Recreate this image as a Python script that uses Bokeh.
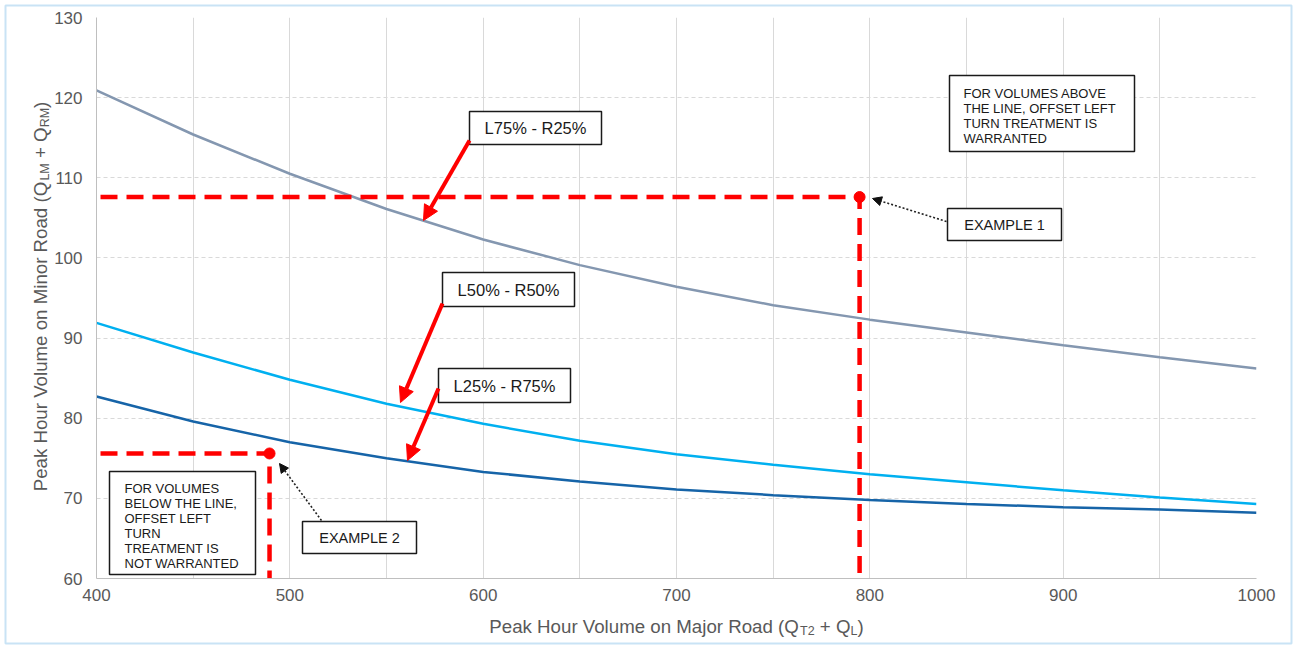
import math
from bokeh.plotting import figure
from bokeh.models import FixedTicker, Arrow, NormalHead, Range1d
from bokeh.core.properties import value
from bokeh.embed import file_html
from bokeh.resources import INLINE

# ---------------- data ----------------
major_volume = [400, 450, 500, 550, 600, 650, 700, 750, 800, 850, 900, 950, 1000]
l75_r25 = [120.9, 115.4, 110.5, 106.1, 102.3, 99.1, 96.4, 94.1, 92.3, 90.7, 89.1, 87.6, 86.2]
l50_r50 = [91.9, 88.2, 84.8, 81.8, 79.3, 77.2, 75.5, 74.2, 73.0, 72.0, 71.0, 70.1, 69.3]
l25_r75 = [82.7, 79.6, 77.0, 75.0, 73.3, 72.1, 71.1, 70.4, 69.8, 69.3, 68.9, 68.6, 68.2]
example_major = [794.7, 489.5]
example_minor = [107.6, 75.6]
x_ticks = [400, 500, 600, 700, 800, 900, 1000]
x_grid = [400, 450, 500, 550, 600, 650, 700, 750, 800, 850, 900, 950, 1000]
y_ticks = [60, 70, 80, 90, 100, 110, 120, 130]
series_labels = ["L75% - R25%", "L50% - R50%", "L25% - R75%"]
example_labels = ["EXAMPLE 1", "EXAMPLE 2"]
note_above = "FOR VOLUMES ABOVE\nTHE LINE, OFFSET LEFT\nTURN TREATMENT IS\nWARRANTED"
note_below = "FOR VOLUMES\nBELOW THE LINE,\nOFFSET LEFT\nTURN\nTREATMENT IS\nNOT WARRANTED"
NBSP = "\u00a0"
x_title_parts = [("Peak Hour Volume on Major Road (Q", False), ("T2", True),
                 (NBSP + "+ Q", False), ("L", True), (")", False)]
y_title_parts = [("Peak Hour Volume on Minor Road (Q", False), ("LM", True),
                 (NBSP + "+ Q", False), ("RM", True), (")", False)]

FONT = "Liberation Sans"
X0, X1, Y0, Y1 = 400, 1000, 60, 130
FL, FR, FT, FB = 96, 1256, 17, 578
WIDTH, HEIGHT = 1296, 648


def xd(px):
    return X0 + (px - FL) * (X1 - X0) / (FR - FL)


def yd(py):
    return Y1 - (py - FT) * (Y1 - Y0) / (FB - FT)


p = figure(width=WIDTH, height=HEIGHT, x_range=Range1d(X0, X1), y_range=Range1d(Y0, Y1),
           output_backend="svg", toolbar_location=None,
           min_border_left=FL, min_border_right=WIDTH - FR, min_border_top=FT,
           min_border_bottom=HEIGHT - FB)
p.outline_line_color = None
p.background_fill_color = "white"

# grids
p.xgrid[0].ticker = FixedTicker(ticks=x_grid)
p.xgrid.grid_line_color = "#D9D9D9"
p.ygrid[0].ticker = FixedTicker(ticks=y_ticks)
p.ygrid.grid_line_color = "#D9D9D9"
p.ygrid.grid_line_dash = "4 3"

# axes
p.xaxis.ticker = FixedTicker(ticks=x_ticks)
p.yaxis.ticker = FixedTicker(ticks=y_ticks)
for ax in (p.xaxis, p.yaxis):
    ax.major_tick_line_color = None
    ax.minor_tick_line_color = None
    ax.major_tick_out = 0
    ax.major_tick_in = 0
    ax.axis_line_color = "#BFBFBF"
    ax.major_label_text_font = FONT
    ax.major_label_text_font_size = "17px"
    ax.major_label_text_color = "#595959"
p.xaxis.major_label_standoff = 10
p.yaxis.major_label_standoff = 14

# curves
p.line(major_volume, l75_r25, line_color="#8497B0", line_width=2.5)
p.line(major_volume, l50_r50, line_color="#00B0F0", line_width=2.5)
p.line(major_volume, l25_r75, line_color="#1664A8", line_width=2.5)

# example guide lines and points
guide_start = xd(100)
for ex, ey in zip(example_major, example_minor):
    p.line([guide_start, ex, ex], [ey, ey, Y0], line_color="#FF0000", line_width=4.5,
           line_dash="17 9", line_join="miter")
p.scatter(example_major, example_minor, size=11, color="#FF0000")

# callout boxes (page pixels: left, right, top, bottom)
series_boxes = [(469, 601, 111, 144), (442, 574, 272, 306), (438, 570, 368, 402)]
example_boxes = [(947, 1061, 208, 240), (302, 416, 521, 553)]
note_boxes = [(949, 1134, 75, 151), (109, 255, 471, 574)]
all_boxes = series_boxes + example_boxes + note_boxes
p.quad(left=[xd(b[0]) for b in all_boxes], right=[xd(b[1]) for b in all_boxes],
       top=[yd(b[2]) for b in all_boxes], bottom=[yd(b[3]) for b in all_boxes],
       fill_color="white", line_color="#1A1A1A", line_width=1.5)

p.text(x=[xd((b[0] + b[1]) / 2) for b in series_boxes],
       y=[yd((b[2] + b[3]) / 2) for b in series_boxes],
       text=series_labels, text_font=value(FONT), text_font_size="16.5px",
       text_color="#1A1A1A", text_align="center", text_baseline="middle")
p.text(x=[xd((b[0] + b[1]) / 2) for b in example_boxes],
       y=[yd((b[2] + b[3]) / 2) for b in example_boxes],
       text=example_labels, text_font=value(FONT), text_font_size="14.5px",
       text_color="#1A1A1A", text_align="center", text_baseline="middle")
p.text(x=[xd(963), xd(124)], y=[yd(85), yd(480)], text=[note_above, note_below],
       text_font=value(FONT), text_font_size="13px", text_color="#1A1A1A",
       text_align="left", text_baseline="top", text_line_height=1.0)

# red arrows to the curves
red_arrows = [((469, 140), (423, 220)), ((442, 303), (400, 402)), ((438, 388), (407, 460))]
for (sx, sy), (ex, ey) in red_arrows:
    p.add_layout(Arrow(x_start=xd(sx), y_start=yd(sy), x_end=xd(ex), y_end=yd(ey),
                       line_color="#FF0000", line_width=4,
                       end=NormalHead(size=15, fill_color="#FF0000", line_color="#FF0000")))

# dotted arrows to example points
dot_arrows = [((946, 221), (872, 198)), ((321, 520), (279, 463))]
for (sx, sy), (ex, ey) in dot_arrows:
    p.add_layout(Arrow(x_start=xd(sx), y_start=yd(sy), x_end=xd(ex), y_end=yd(ey),
                       line_color="#222222", line_width=1.6, line_dash="2 2",
                       end=NormalHead(size=9, fill_color="#111111", line_color="#111111",
                                      line_width=1)))

# axis titles with subscripts (overlay-level text so they are drawn outside the frame)
W = {' ': 278, NBSP: 278, '(': 333, ')': 333, '+': 584, '2': 556, 'P': 667, 'e': 556,
     'a': 556, 'k': 500, 'H': 722, 'o': 556, 'u': 556, 'r': 333, 'V': 667, 'l': 222,
     'm': 833, 'n': 556, 'M': 833, 'j': 222, 'R': 722, 'd': 556, 'Q': 778, 'T': 611,
     'L': 556, 'i': 222}
MAIN, SUB = 18.7, 12.5


def tw(s, size):
    return sum(W.get(c, 556) for c in s) * size / 1000.0


def sizes(parts):
    return [(t, s, tw(t, SUB if s else MAIN)) for t, s in parts]


xt = sizes(x_title_parts)
cx = 676 - sum(w for _, _, w in xt) / 2
for txt, is_sub, w in xt:
    base = 626 + (4 if is_sub else 0)
    p.text(x=[xd(cx)], y=[yd(base)], text=[txt], level="overlay",
           text_font=value(FONT), text_font_size=f"{SUB if is_sub else MAIN}px",
           text_color="#595959", text_align="left", text_baseline="alphabetic")
    cx += w

yt = sizes(y_title_parts)
cy = 296 + sum(w for _, _, w in yt) / 2
for txt, is_sub, w in yt:
    base = 40 + (4 if is_sub else 0)
    p.text(x=[xd(base)], y=[yd(cy)], text=[txt], level="overlay", angle=math.pi / 2,
           text_font=value(FONT), text_font_size=f"{SUB if is_sub else MAIN}px",
           text_color="#595959", text_align="left", text_baseline="alphabetic")
    cy -= w

# light chart-area border
p.quad(left=[xd(5)], right=[xd(1291)], top=[yd(5)], bottom=[yd(643)], level="overlay",
       fill_color=None, line_color="#C9E3F5", line_width=2)

open("out.html", "w").write(file_html(p, INLINE))
